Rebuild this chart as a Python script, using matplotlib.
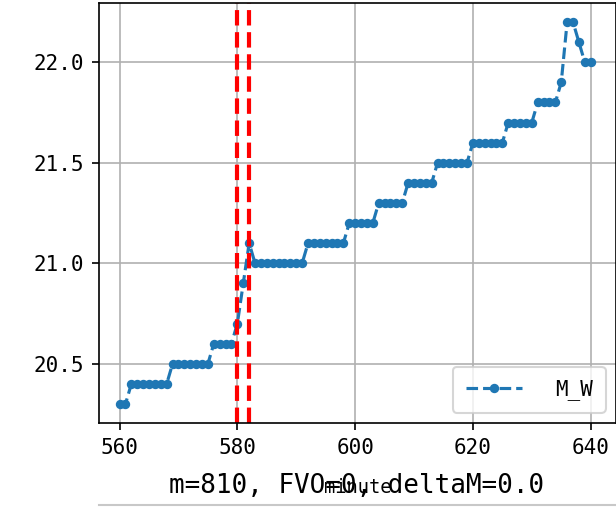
import matplotlib
matplotlib.use("Agg")
import matplotlib.pyplot as plt
from matplotlib.lines import Line2D

plt.rcParams['font.family'] = ['DejaVu Sans Mono', 'DejaVu Sans']

# minute-by-minute M_W readings
minutes = list(range(560, 641))
m_w = ([20.3] * 2 + [20.4] * 7 + [20.5] * 7 + [20.6] * 4
       + [20.7, 20.9, 21.1]
       + [21.0] * 9 + [21.1] * 7 + [21.2] * 5 + [21.3] * 5 + [21.4] * 5
       + [21.5] * 6 + [21.6] * 6 + [21.7] * 5 + [21.8] * 4
       + [21.9, 22.2, 22.2, 22.1, 22.0, 22.0])
markers_at = [580, 582]
title_text = "m=810, FVO=0, deltaM=0.0"

fig = plt.figure(figsize=(616 / 150, 508 / 150), dpi=150)
ax = fig.add_axes([99 / 616, 85 / 508, 517 / 616, 420 / 508])

ax.plot(minutes, m_w, '.--', color='tab:blue', label='M_W', markersize=7)
for xv in markers_at:
    ax.axvline(xv, color='red', linestyle='--', linewidth=2)

ax.grid(True)
ax.set_xlim(556.5, 644.3)
ax.set_xticks([560, 580, 600, 620, 640])
ax.set_yticks([20.5, 21.0, 21.5, 22.0])
ax.tick_params(labelsize=10)
ax.set_xlabel("minute", fontsize=9, labelpad=10)
ax.legend(loc='lower right', handlelength=2.7, handletextpad=1.6, borderpad=0.6)

fig.text(0.578, 0.043, title_text, fontsize=12.5, ha='center', va='center')
fig.add_artist(Line2D([99 / 616, 1], [3 / 508, 3 / 508], color='#c8c8c8', lw=1))

fig.savefig("out.png", dpi=150)
